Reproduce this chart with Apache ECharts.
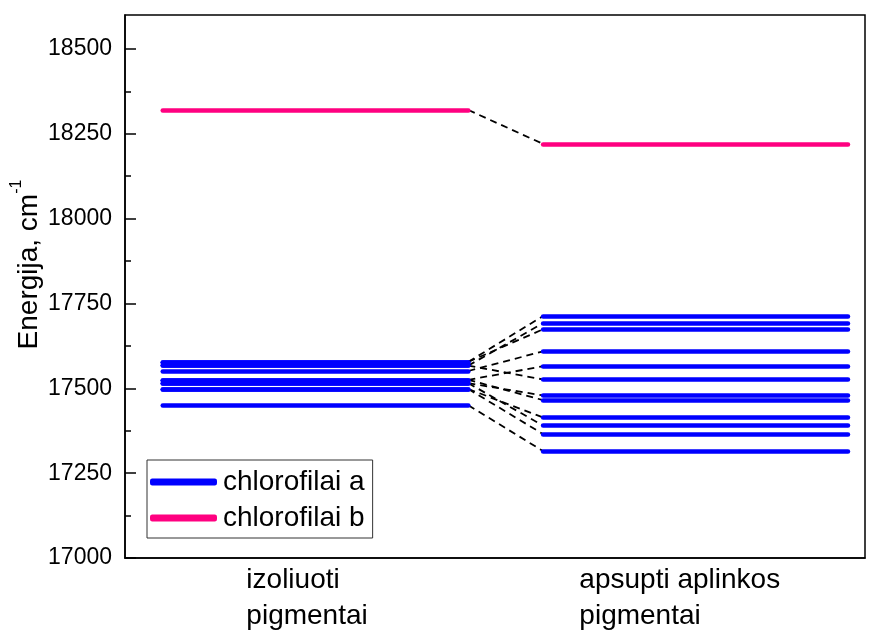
<!DOCTYPE html>
<html>
<head>
<meta charset="utf-8">
<script src="https://cdn.jsdelivr.net/npm/echarts@6/dist/echarts.min.js"></script>
<style>html,body{margin:0;padding:0;background:#fff}#c{width:872px;height:632px}</style>
</head>
<body>
<div id="c"></div>
<script>
// ---- data ----
const categories = ['izoliuoti\npigmentai', 'apsupti aplinkos\npigmentai'];
const seriesNames = ['chlorofilai a', 'chlorofilai b'];
// chlorophyll a levels (cm^-1), paired by index: isolated -> in environment
const chlAIsolated = [17578, 17567, 17578, 17551, 17525, 17567, 17515, 17525, 17498, 17515, 17498, 17450];
const chlAEnv      = [17713, 17692, 17674, 17609, 17565, 17526, 17479, 17465, 17414, 17390, 17365, 17315];
// chlorophyll b levels
const chlBIsolated = [18320];
const chlBEnv      = [18220];
const yTickLabels = [17000, 17250, 17500, 17750, 18000, 18250, 18500];
const yMinorTicks = [17125, 17375, 17625, 17875, 18125, 18375];

// ---- layout (x spans of the level bars in axis units) ----
const spanIso = [0.51, 4.64];
const spanEnv = [5.65, 9.77];
const labelAnchors = [1.64, 6.14];

function levels(vals, span) {
  return vals.map(v => ({ coords: [[span[0], v], [span[1], v]] }));
}
function connectors(a, b) {
  return a.map((v, i) => ({ coords: [[spanIso[1], v], [spanEnv[0], b[i]]] }));
}

const FONT = '"Liberation Sans", Arial, sans-serif';
const chart = echarts.init(document.getElementById('c'), null, { renderer: 'canvas' });
chart.setOption({
  animation: false,
  backgroundColor: '#fff',
  grid: { left: 125, right: 7, top: 15, bottom: 74, outerBoundsMode: 'none', containLabel: false,
          show: true, borderColor: '#000', borderWidth: 1.5, backgroundColor: 'transparent' },
  legend: {
    orient: 'vertical', left: 147, top: 460,
    padding: [8, 8, 6, 3],
    borderColor: '#333', borderWidth: 1,
    itemWidth: 65, itemHeight: 5, itemGap: 8,
    textStyle: { fontFamily: FONT, fontSize: 28, color: '#000', lineHeight: 28, padding: [0, 0, 0, 2] },
    data: [
      { name: seriesNames[0], icon: 'roundRect', itemStyle: { color: '#0000ff' } },
      { name: seriesNames[1], icon: 'roundRect', itemStyle: { color: '#ff0080' } }
    ]
  },
  xAxis: {
    type: 'value', min: 0, max: 10,
    splitLine: { show: false },
    axisLine: { show: true, lineStyle: { color: '#000', width: 1.5 } },
    axisTick: { show: false },
    axisLabel: {
      customValues: labelAnchors,
      formatter: (v) => {
        const i = labelAnchors.indexOf(v);
        return i >= 0 ? categories[i] : '';
      },
      align: 'left', margin: 4,
      fontFamily: FONT, fontSize: 28, color: '#000', lineHeight: 36
    }
  },
  yAxis: [{
    type: 'value', min: 17000, max: 18600, interval: 250,
    name: 'Energija, cm{sup|-1}',
    nameLocation: 'middle', nameGap: 76, nameRotate: 90, nameMoveOverlap: false,
    nameTextStyle: {
      fontFamily: FONT, fontSize: 28, color: '#000', padding: [0, 0, 0, 44],
      rich: { sup: { fontFamily: FONT, fontSize: 16, color: '#000', verticalAlign: 'top', lineHeight: 40 } }
    },
    splitLine: { show: false },
    axisLine: { show: true, lineStyle: { color: '#000', width: 1.5 } },
    axisTick: { show: true, inside: true, length: 11, lineStyle: { color: '#000', width: 1.5 }, customValues: yTickLabels },
    axisLabel: { customValues: yTickLabels, formatter: (v) => String(v), fontFamily: FONT, fontSize: 23, color: '#000', margin: 13 }
  }, {
    type: 'value', min: 17000, max: 18600, position: 'left',
    splitLine: { show: false },
    axisLine: { show: false },
    axisLabel: { show: false },
    axisTick: { show: true, inside: true, length: 6, lineStyle: { color: '#000', width: 1.5 }, customValues: yMinorTicks }
  }],
  series: [
    {
      name: 'conn', type: 'lines', coordinateSystem: 'cartesian2d', silent: true, z: 1,
      lineStyle: { color: '#000', width: 1.8, type: [7, 5], opacity: 1 },
      data: connectors(chlAIsolated, chlAEnv).concat(connectors(chlBIsolated, chlBEnv))
    },
    {
      name: seriesNames[0], type: 'lines', coordinateSystem: 'cartesian2d', z: 3,
      lineStyle: { color: '#0000ff', width: 4.5, cap: 'round', opacity: 1 },
      data: levels(chlAIsolated, spanIso).concat(levels(chlAEnv, spanEnv))
    },
    {
      name: seriesNames[1], type: 'lines', coordinateSystem: 'cartesian2d', z: 3,
      lineStyle: { color: '#ff0080', width: 4.5, cap: 'round', opacity: 1 },
      data: levels(chlBIsolated, spanIso).concat(levels(chlBEnv, spanEnv))
    }
  ]
});
</script>
</body>
</html>
